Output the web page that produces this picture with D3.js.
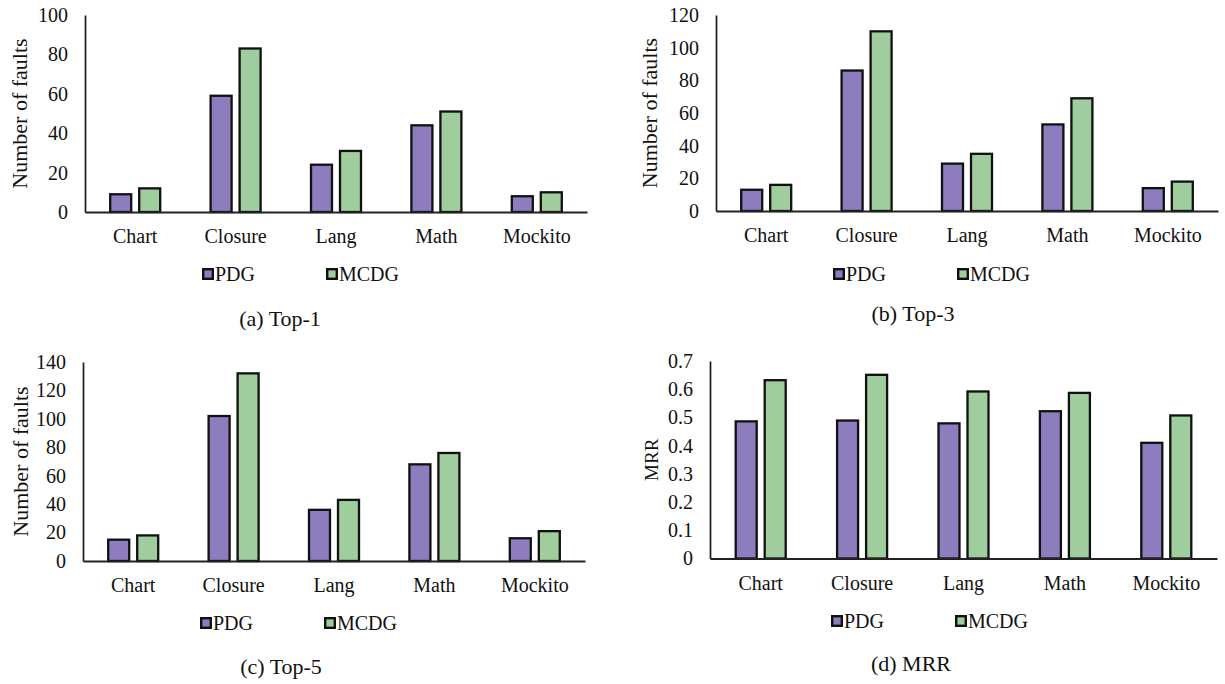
<!DOCTYPE html>
<html>
<head>
<meta charset="utf-8">
<script src="https://cdn.jsdelivr.net/npm/d3@7"></script>
<style>
  html, body { margin: 0; padding: 0; background: #fff; }
  svg { display: block; }
  text { font-family: "Liberation Serif", "LiberationSerif", "Tinos", "Times New Roman", "Times", "DejaVu Serif", "Noto Serif", serif; fill: #111; }
</style>
</head>
<body>
<svg id="chart" width="1225" height="684"></svg>
<script>
// ---- data ----
const categories = ["Chart", "Closure", "Lang", "Math", "Mockito"];
const seriesNames = ["PDG", "MCDG"];

const top1PDG  = [9, 59, 24, 44, 8];
const top1MCDG = [12, 83, 31, 51, 10];

const top3PDG  = [13, 86, 29, 53, 14];
const top3MCDG = [16, 110, 35, 69, 18];

const top5PDG  = [15, 102, 36, 68, 16];
const top5MCDG = [18, 132, 43, 76, 21];

const mrrPDG  = [0.486, 0.489, 0.479, 0.522, 0.41];
const mrrMCDG = [0.632, 0.651, 0.592, 0.587, 0.507];

const countTicks1 = [0, 20, 40, 60, 80, 100];
const countTicks3 = [0, 20, 40, 60, 80, 100, 120];
const countTicks5 = [0, 20, 40, 60, 80, 100, 120, 140];
const mrrTicks = [0, 0.1, 0.2, 0.3, 0.4, 0.5, 0.6, 0.7];

const captions = ["(a) Top-1", "(b) Top-3", "(c) Top-5", "(d) MRR"];
const yTitles = ["Number of faults", "Number of faults", "Number of faults", "MRR"];

// ---- styles ----
const FONT = '"Liberation Serif", "LiberationSerif", "Tinos", "Times New Roman", "Times", "DejaVu Serif", "Noto Serif", serif';
const TEXT = "#111";
const colors = { PDG: "#8d7dbe", MCDG: "#9fcd9d" };

// ---- panels layout ----
const panels = [
  { pdg: top1PDG, mcdg: top1MCDG, max: 100, ticks: countTicks1, fmt: d => d,
    x0: 85, x1: 587, yTop: 15, yBase: 212, caption: captions[0], title: yTitles[0],
    titleX: 27, titleSize: 22, capBase: 326, capDX: 195, legY: 274, legDX: 0 },
  { pdg: top3PDG, mcdg: top3MCDG, max: 120, ticks: countTicks3, fmt: d => d,
    x0: 716, x1: 1218, yTop: 15, yBase: 211, caption: captions[1], title: yTitles[1],
    titleX: 657, titleSize: 22, capBase: 321, capDX: 197, legY: 274, legDX: 0 },
  { pdg: top5PDG, mcdg: top5MCDG, max: 140, ticks: countTicks5, fmt: d => d,
    x0: 83, x1: 585, yTop: 362, yBase: 561, caption: captions[2], title: yTitles[2],
    titleX: 28, titleSize: 22, capBase: 674, capDX: 198, legY: 623, legDX: 0 },
  { pdg: mrrPDG, mcdg: mrrMCDG, max: 0.7, ticks: mrrTicks, fmt: d => d === 0 ? "0" : d.toFixed(1),
    x0: 710, x1: 1217, yTop: 361, yBase: 558.5, caption: captions[3], title: yTitles[3],
    titleX: 658, titleSize: 19, capBase: 671, capDX: 201, legY: 621, legDX: 4 }
];

const svg = d3.select("#chart");

panels.forEach(p => {
  const g = svg.append("g");
  const x = d3.scaleBand().domain(categories).range([p.x0, p.x1]).paddingInner(0).paddingOuter(0);
  const y = d3.scaleLinear().domain([0, p.max]).range([p.yBase, p.yTop]);
  const x1 = d3.scaleBand().domain(seriesNames).range([0, 50]).paddingInner(0.276).paddingOuter(0);

  const rows = categories.map((c, i) => ({ cat: c, PDG: p.pdg[i], MCDG: p.mcdg[i] }));

  // bars
  const grp = g.selectAll("g.cat").data(rows).join("g")
    .attr("transform", d => `translate(${x(d.cat) + x.bandwidth() / 2 - 25},0)`);
  grp.selectAll("rect").data(d => seriesNames.map(s => ({ s, v: d[s] }))).join("rect")
    .attr("x", d => x1(d.s))
    .attr("width", x1.bandwidth())
    .attr("y", d => y(d.v))
    .attr("height", d => y(0) - y(d.v))
    .attr("fill", d => colors[d.s])
    .attr("stroke", "#111")
    .attr("stroke-width", 2.3);

  // y axis
  const ya = g.append("g").attr("transform", `translate(${p.x0},0)`)
    .call(d3.axisLeft(y).tickValues(p.ticks).tickFormat(p.fmt).tickSize(0).tickPadding(17));
  ya.select(".domain").attr("stroke", "#1a1a1a").attr("stroke-width", 1.7);
  ya.selectAll("text").style("font-family", FONT)
    .style("font-size", "20px").attr("fill", TEXT);

  // x axis
  const xa = g.append("g").attr("transform", `translate(0,${p.yBase})`)
    .call(d3.axisBottom(x).tickSize(0).tickPadding(17));
  xa.select(".domain").attr("stroke", "#222").attr("stroke-width", 2);
  xa.selectAll("text").style("font-family", FONT)
    .style("font-size", "20px").attr("fill", TEXT);

  // y title
  g.append("text")
    .attr("transform", `translate(${p.titleX},${(p.yTop + p.yBase) / 2}) rotate(-90)`)
    .attr("text-anchor", "middle")
    .style("font-family", FONT)
    .style("font-size", p.titleSize + "px")
    .text(p.title);

  // legend
  const legX = [p.x0 + 117 + p.legDX, p.x0 + 241 + p.legDX];
  seriesNames.forEach((s, i) => {
    g.append("rect")
      .attr("x", legX[i] + 1.2).attr("y", p.legY - 4.8)
      .attr("width", 9.6).attr("height", 9.6)
      .attr("fill", colors[s]).attr("stroke", "#111").attr("stroke-width", 2.4);
    g.append("text")
      .attr("x", legX[i] + 13).attr("y", p.legY + 6.5)
      .style("font-family", FONT)
      .style("font-size", "20px")
      .text(s);
  });

  // caption
  g.append("text")
    .attr("x", p.x0 + p.capDX).attr("y", p.capBase)
    .attr("text-anchor", "middle")
    .style("font-family", FONT)
    .style("font-size", "22px")
    .text(p.caption);
});
</script>
</body>
</html>
